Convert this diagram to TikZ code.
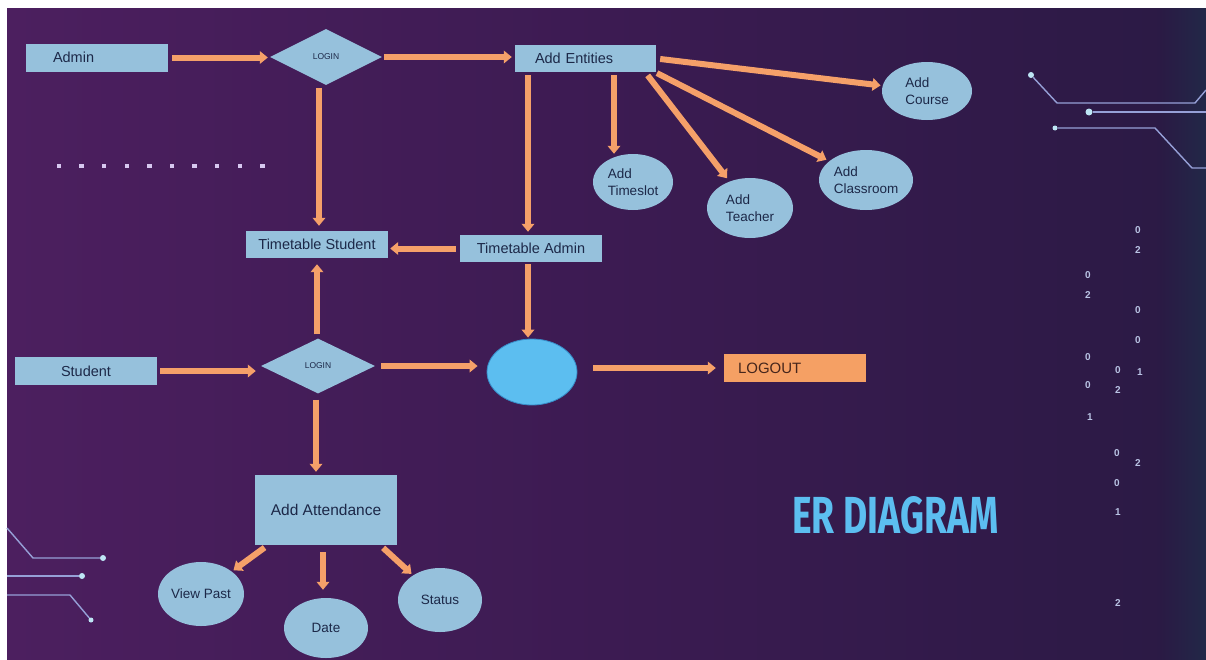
\documentclass[tikz,border=0pt]{standalone}
\usepackage{fontspec}
\usepackage{graphicx}
\setmainfont{Liberation Sans}
\newfontfamily\titlefont{Fira Sans}
\usetikzlibrary{shapes.geometric,arrows.meta,calc}
\definecolor{bgleft}{RGB}{76,31,95}
\definecolor{bgmid}{RGB}{60,27,82}
\definecolor{bgright}{RGB}{42,26,68}
\definecolor{bgedge}{RGB}{34,40,72}
\definecolor{boxblue}{RGB}{150,193,220}
\definecolor{txt}{RGB}{28,40,72}
\definecolor{arrorange}{RGB}{245,160,105}
\definecolor{circblue}{RGB}{92,190,240}
\definecolor{circedge}{RGB}{55,140,200}
\definecolor{logoutfill}{RGB}{245,160,100}
\definecolor{logouttxt}{RGB}{70,38,28}
\definecolor{wire}{RGB}{150,160,215}
\definecolor{wiredot}{RGB}{190,230,245}
\definecolor{digit}{RGB}{185,195,228}
\definecolor{dotc}{RGB}{215,200,240}
\definecolor{titleblue}{RGB}{92,190,240}
\begin{document}
\begin{tikzpicture}[x=1pt,y=-1pt,
  box/.style={rectangle, fill=boxblue, text=txt, minimum width=142pt, minimum height=27pt,
    inner sep=0pt, font=\fontsize{14.5}{17}\selectfont},
  ell/.style={ellipse, fill=boxblue, text=txt, inner sep=0pt, align=left,
    font=\fontsize{13.5}{17}\selectfont},
  dia/.style={diamond, fill=boxblue, text=txt, inner sep=0pt, font=\fontsize{8.5}{10}\selectfont},
  arr/.style={draw=arrorange, line width=6pt, -{Triangle[width=12.5pt,length=8pt]}},
  wireline/.style={draw=wire, line width=1.4pt},
  wdot/.style={circle, fill=wiredot, inner sep=0pt, minimum size=6pt},
  dig/.style={text=digit, font=\bfseries\fontsize{10}{12}\selectfont, inner sep=0pt},
  bdot/.style={fill=dotc, minimum size=4.5pt, inner sep=0pt, rectangle}
]
\useasboundingbox (0,0) rectangle (1206,659);
\fill[white] (0,0) rectangle (1206,659);
% background
\shade[left color=bgleft, right color=bgright, middle color=bgmid] (7,8) rectangle (1206,659);
\shade[left color=bgright, right color=bgedge] (1160,8) rectangle (1206,659);

% decorative dots row
\foreach \i in {0,...,9} {
  \node[bdot] (d\i) at ({59+\i*22.6},166) {};
}

% circuit lines top right
\node[wdot] (wa) at (1031,75) {};
\node[wdot, minimum size=7pt] (wb) at (1089,112) {};
\node[wdot, minimum size=5pt] (wc) at (1055,128) {};
\draw[wireline] (wa) -- (1057,103) -- (1195,103) -- (1206,90);
\draw[wireline] (wb) -- (1206,112);
\draw[wireline] (wc) -- (1155,128) -- (1192,168) -- (1206,168);
% circuit lines bottom left
\node[wdot] (wd) at (103,558) {};
\node[wdot] (we) at (82,576) {};
\node[wdot, minimum size=5pt] (wf) at (91,620) {};
\draw[wireline] (7,528) -- (33,558) -- (wd);
\draw[wireline] (7,576) -- (we);
\draw[wireline] (7,595) -- (70,595) -- (wf);

% digits
\foreach \x/\y/\t in {1138/230/0,1138/250/2,1088/275/0,1088/295/2,1138/310/0,1138/340/0,
  1088/357/0,1118/370/0,1140/372/1,1088/385/0,1118/390/2,1090/417/1,
  1117/453/0,1138/463/2,1117/483/0,1118/512/1,1118/603/2} {
  \node[dig] at (\x,\y) {\t};
}

% title
\node[anchor=south west, inner sep=0pt, text=titleblue] (title) at (792,535)
  {\resizebox{206pt}{37pt}{\titlefont\bfseries ER DIAGRAM}};

% nodes
\node[box, text width=88pt, inner xsep=27pt, align=left, minimum height=28pt] (admin) at (97,57.5) {Admin};
\node[dia, minimum width=112pt, minimum height=56pt] (login1) at (326,57) {LOGIN};
\node[box, minimum width=141pt, text width=101pt, inner xsep=20pt, align=left] (ent) at (585.5,58.5) {Add Entities};
\node[box] (ts) at (317,244.5) {Timetable Student};
\node[box] (ta) at (531,248.5) {Timetable Admin};
\node[ell, minimum width=80pt, minimum height=56pt] (timeslot) at (633,182) {Add\\Timeslot};
\node[ell, minimum width=86pt, minimum height=60pt] (teacher) at (750,208) {Add\\Teacher};
\node[ell, minimum width=94pt, minimum height=60pt] (classroom) at (866,180) {Add\\Classroom};
\node[ell, minimum width=90pt, minimum height=58pt] (course) at (927,91) {Add\\Course};
\node[box, minimum height=28pt] (student) at (86,371) {Student};
\node[dia, minimum width=114pt, minimum height=55pt] (login2) at (318,366) {LOGIN};
\node[ellipse, fill=circblue, draw=circedge, line width=0.8pt, minimum width=90pt, minimum height=66pt, inner sep=0pt] (circ) at (532,372) {};
\node[box, fill=logoutfill, text=logouttxt, text width=114pt, inner xsep=14pt, align=left, minimum height=28pt,
  font=\fontsize{15}{18}\selectfont] (logout) at (795,368) {LOGOUT};
\node[box, minimum height=70pt, font=\fontsize{15.5}{18}\selectfont] (att) at (326,510) {Add Attendance};
\node[ell, minimum width=86pt, minimum height=64pt] (viewpast) at (201,594) {View Past};
\node[ell, minimum width=84pt, minimum height=60pt] (date) at (326,628) {Date};
\node[ell, minimum width=84pt, minimum height=64pt] (status) at (440,600) {Status};

% connectors
\draw[arr, shorten <=4pt, shorten >=2pt] (admin.east) -- (admin.east -| login1.west);
\draw[arr, shorten <=2pt, shorten >=3pt] (login1.east) -- (login1.east -| ent.west);
\draw[arr, shorten <=3pt, shorten >=5pt] ([xshift=-7pt]login1.south) -- ([xshift=-7pt]login1.south |- ts.north);
\draw[arr, shorten <=3pt, shorten >=3pt] ([xshift=-3pt]ta.north |- ent.south) -- ([xshift=-3pt]ta.north);
\draw[arr, shorten <=3pt] ([xshift=-19pt]timeslot.north |- ent.south) -- ([xshift=-19pt]timeslot.north);
\draw[arr, shorten <=4pt, shorten >=4pt] ([xshift=-11pt]ent.south east) -- (teacher);
\draw[arr, shorten <=2pt, shorten >=3pt] ([xshift=-1pt]ent.south east) -- (classroom);
\draw[arr, shorten <=4pt, shorten >=2pt] (ent.east) -- (course);
\draw[arr, shorten <=4pt, shorten >=2pt] (ta.west) -- (ta.west -| ts.east);
\draw[arr, shorten <=2pt, shorten >=1pt] ([xshift=-4pt]circ.north |- ta.south) -- ([xshift=-4pt]circ.north);
\draw[arr, shorten <=4pt, shorten >=6pt] ([xshift=-1pt]login2.north) -- ([xshift=-1pt]login2.north |- ts.south);
\draw[arr, shorten <=3pt, shorten >=5pt] (student.east) -- (student.east -| login2.west);
\draw[arr, shorten <=6pt, shorten >=9pt] (login2.east) -- (login2.east -| circ.west);
\draw[arr, shorten <=16pt, shorten >=8pt] (logout.west -| circ.east) -- (logout.west);
\draw[arr, shorten <=6pt, shorten >=3pt] ([xshift=-2pt]login2.south) -- ([xshift=-2pt]login2.south |- att.north);
\draw[arr, shorten <=4pt, shorten >=2pt] ([xshift=13pt]att.south west) -- (viewpast);
\draw[arr, shorten <=7pt, shorten >=8pt] ([xshift=-3pt]att.south) -- ([xshift=-3pt]att.south |- date.north);
\draw[arr, shorten <=4pt, shorten >=2pt] ([xshift=-17pt]att.south east) -- (status);
\end{tikzpicture}
\end{document}
